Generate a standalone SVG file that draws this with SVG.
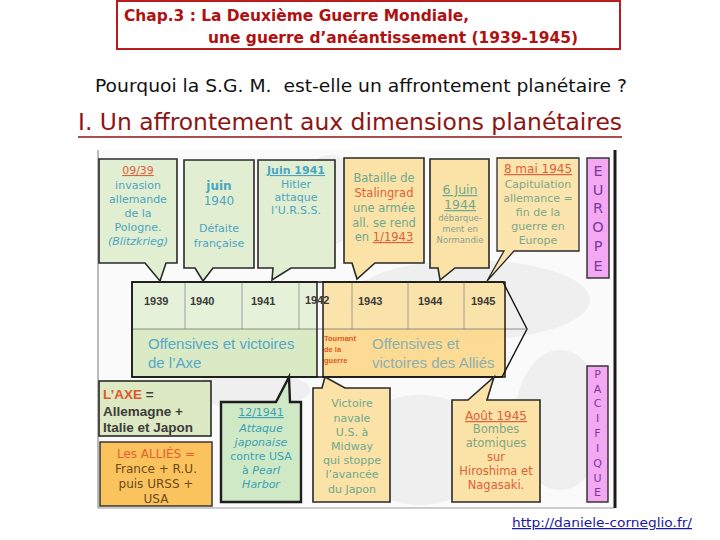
<svg xmlns="http://www.w3.org/2000/svg" width="720" height="540" viewBox="0 0 720 540">
<defs>
<style>
.c{font-family:"DejaVu Sans","Liberation Sans",sans-serif;text-anchor:middle}
.a{font-family:"Liberation Sans",Arial,sans-serif}
.g{fill:#e1eed2;stroke:#2a2a2a;stroke-width:1.6}
.y{fill:#fbe2a6;stroke:#2a2a2a;stroke-width:1.6}
.pk{fill:#f4a8f2;stroke:#2a2a2a;stroke-width:1.4}
.tl{fill:none;stroke:#111;stroke-width:1.4}
.teal{fill:#4aa6c0}
.sage{fill:#6fa890}
.org{fill:#e0603a}
.yr{font-family:"Liberation Sans",Arial,sans-serif;font-weight:bold;font-size:11px;fill:#3a3a3a}
.pl{font-family:"DejaVu Sans",sans-serif;font-size:14.5px;fill:#7a3aa0;text-anchor:middle}
.pq{font-family:"DejaVu Sans",sans-serif;font-size:11px;fill:#7a3aa0;text-anchor:middle}
</style>
</defs>
<rect width="720" height="540" fill="#fff"/>

<!-- header -->
<g id="title">
<rect x="117" y="1" width="503" height="48" fill="#fff" stroke="#b81c1c" stroke-width="2"/>
<text x="124" y="21" font-family="DejaVu Sans,sans-serif" font-weight="bold" font-size="15" fill="#b01010" textLength="345" lengthAdjust="spacingAndGlyphs">Chap.3 : La Deuxième Guerre Mondiale,</text>
<text x="208" y="43" font-family="DejaVu Sans,sans-serif" font-weight="bold" font-size="15" fill="#b01010" textLength="370" lengthAdjust="spacingAndGlyphs">une guerre d’anéantissement (1939-1945)</text>
</g>
<g id="question">
<text x="95" y="92" font-family="DejaVu Sans,sans-serif" font-size="17" fill="#111" textLength="532" lengthAdjust="spacingAndGlyphs" xml:space="preserve">Pourquoi la S.G. M.  est-elle un affrontement planétaire ?</text>
</g>
<g id="heading">
<text x="78" y="130" font-family="DejaVu Sans,sans-serif" font-size="23" fill="#8e1414" textLength="544" lengthAdjust="spacingAndGlyphs">I. Un affrontement aux dimensions planétaires</text>
<line x1="78" y1="137" x2="622" y2="137" stroke="#8e1414" stroke-width="1.6"/>
</g>

<!-- picture frame & faded background -->
<g id="frame">
<rect x="98" y="150" width="516" height="358" fill="#fafafa"/>
<g fill="#d0d0d0" opacity="0.25">
<ellipse cx="470" cy="300" rx="120" ry="40"/>
<ellipse cx="420" cy="450" rx="70" ry="55"/>
<ellipse cx="560" cy="420" rx="45" ry="70"/>
<ellipse cx="250" cy="390" rx="60" ry="18"/>
<ellipse cx="330" cy="200" rx="30" ry="45"/>
</g>
<line x1="98" y1="150" x2="98" y2="508" stroke="#7a7a7a" stroke-width="1"/>
<line x1="98" y1="508" x2="614" y2="508" stroke="#9a9a9a" stroke-width="1"/>
<line x1="615" y1="150" x2="615" y2="508" stroke="#1a1a1a" stroke-width="3"/>
</g>

<!-- timeline -->
<g id="timeline">
<rect x="132" y="282" width="185" height="47" fill="#e6f1da"/>
<rect x="132" y="329" width="185" height="48" fill="#d9eac4"/>
<rect x="323" y="282" width="183" height="47" fill="#fbe1a2" opacity="0.9"/>
<rect x="323" y="329" width="183" height="48" fill="#fcd78a" opacity="0.9"/>
<polygon points="132,282 503,282 527,329 502,377 132,377" class="tl"/>
<line x1="132" y1="329" x2="527" y2="329" stroke="#777" stroke-width="0.8"/>
<g stroke="#8a8a8a" stroke-width="0.8">
<line x1="185" y1="282" x2="185" y2="329"/>
<line x1="242" y1="282" x2="242" y2="329"/>
<line x1="299" y1="282" x2="299" y2="329"/>
<line x1="352" y1="282" x2="352" y2="329"/>
<line x1="408" y1="282" x2="408" y2="329"/>
<line x1="464" y1="282" x2="464" y2="329"/>
</g>
<rect x="132" y="282" width="185" height="95" class="tl"/>
<rect x="323" y="282" width="182" height="95" class="tl"/>
<text x="144" y="305" class="yr">1939</text>
<text x="190" y="305" class="yr">1940</text>
<text x="251" y="305" class="yr">1941</text>
<text x="305" y="304" class="yr">1942</text>
<text x="358" y="305" class="yr">1943</text>
<text x="418" y="305" class="yr">1944</text>
<text x="471" y="305" class="yr">1945</text>
<text x="148" y="349" class="a" font-size="15" fill="#56a8c6">Offensives et victoires</text>
<text x="148" y="368" class="a" font-size="15" fill="#56a8c6">de l’Axe</text>
<text class="a" font-size="7.5" font-weight="bold" fill="#e2561e"><tspan x="324" y="341">Tournant</tspan><tspan x="324" y="352">de la</tspan><tspan x="324" y="363">guerre</tspan></text>
<text x="372" y="349" class="a" font-size="15" fill="#8cb0ae">Offensives et</text>
<text x="372" y="368" class="a" font-size="15" fill="#8cb0ae">victoires des Alliés</text>
</g>

<!-- top row -->
<g id="n0939">
<path d="M99,159 H177 V263 H166 L160,281 L145,263 H99 Z" class="g"/>
<text class="c" font-size="11"><tspan x="138" y="174" class="org" text-decoration="underline">09/39</tspan><tspan x="138" y="189" class="teal">invasion</tspan><tspan x="138" y="203" class="teal">allemande</tspan><tspan x="138" y="217" class="teal">de la</tspan><tspan x="138" y="231" class="teal">Pologne.</tspan><tspan x="138" y="245" class="teal" font-style="italic">(Blitzkrieg)</tspan></text>
</g>
<g id="n1940">
<path d="M184,160 H254 V268 H213 L203,281 L195,268 H184 Z" class="g"/>
<text class="c" font-size="12"><tspan x="219" y="190" class="teal" font-weight="bold">juin</tspan><tspan x="219" y="205" class="teal">1940</tspan><tspan x="219" y="232" class="teal" font-size="11">Défaite</tspan><tspan x="219" y="247" class="teal" font-size="11">française</tspan></text>
</g>
<g id="n1941">
<path d="M258,160 H335 V268 H291 L272,280 L273,268 H258 Z" class="g" stroke-width="2.4"/>
<text class="c" font-size="11"><tspan x="296" y="174" class="teal" font-weight="bold" text-decoration="underline">Juin 1941</tspan><tspan x="296" y="188" class="teal">Hitler</tspan><tspan x="296" y="201" class="teal">attaque</tspan><tspan x="296" y="214" class="teal">l’U.R.S.S.</tspan></text>
</g>
<g id="nstalingrad">
<path d="M344,158 H424 V263 H375 L357,279 L352,263 H344 Z" class="y"/>
<text class="c" font-size="11.5"><tspan x="384" y="182" class="sage">Bataille de</tspan><tspan x="384" y="197" class="org">Stalingrad</tspan><tspan x="384" y="212" class="sage">une armée</tspan><tspan x="384" y="227" class="sage">all. se rend</tspan><tspan x="384" y="241" class="sage">en <tspan class="org" text-decoration="underline">1/1943</tspan></tspan></text>
</g>
<g id="n1944">
<path d="M430,159 H489 V268 H455 L440,280 L438,268 H430 Z" class="y"/>
<text class="c"><tspan x="460" y="194" class="sage" font-size="12.5" text-decoration="underline">6 Juin</tspan><tspan x="460" y="209" class="sage" font-size="12.5" text-decoration="underline">1944</tspan><tspan x="460" y="221" fill="#8aa090" font-size="8.5">débarque-</tspan><tspan x="460" y="232" fill="#8aa090" font-size="8.5">ment en</tspan><tspan x="460" y="243" fill="#8aa090" font-size="8.5">Normandie</tspan></text>
</g>
<g id="n1945eu">
<path d="M497,158 H579 V251 H514 L487,281 L504,251 H497 Z" fill="#fbe4ad" stroke="#2a2a2a" stroke-width="1.3"/>
<text class="c" font-size="11"><tspan x="538" y="173" class="org" font-size="12" text-decoration="underline">8 mai 1945</tspan><tspan x="538" y="188" fill="#7ea887">Capitulation</tspan><tspan x="538" y="202" fill="#7ea887">allemance =</tspan><tspan x="538" y="216" fill="#7ea887">fin de la</tspan><tspan x="538" y="230" fill="#7ea887">guerre en</tspan><tspan x="538" y="244" fill="#7ea887">Europe</tspan></text>
</g>
<g id="europe">
<rect x="587" y="158" width="22" height="120" class="pk"/>
<text class="pl"><tspan x="598" y="176">E</tspan><tspan x="598" y="195">U</tspan><tspan x="598" y="213">R</tspan><tspan x="598" y="232">O</tspan><tspan x="598" y="251">P</tspan><tspan x="598" y="271">E</tspan></text>
</g>

<!-- bottom row -->
<g id="axe">
<rect x="99" y="381" width="112" height="55" fill="#dde9c2" stroke="#2a2a2a" stroke-width="1.6"/>
<text class="a" font-weight="bold" font-size="13.5" fill="#3c3c3c"><tspan x="103" y="399"><tspan fill="#e0582a">L’AXE</tspan> =</tspan><tspan x="103" y="416">Allemagne +</tspan><tspan x="103" y="432">Italie et Japon</tspan></text>
</g>
<g id="allies">
<rect x="100" y="442" width="112" height="64" fill="#fac35e" stroke="#2a2a2a" stroke-width="1.4"/>
<text class="c" font-size="12" fill="#6a4a1a"><tspan x="156" y="458" fill="#e8602c">Les ALLIÉS =</tspan><tspan x="156" y="473">France + R.U.</tspan><tspan x="156" y="488">puis URSS +</tspan><tspan x="156" y="503">USA</tspan></text>
</g>
<g id="n1241">
<path d="M221,402 H276 L289,377 L290,402 H301 V502 H221 Z" fill="#cfe8c6" stroke="#1e1e1e" stroke-width="2.4"/>
<text class="c" font-size="11" fill="#3aa2b4"><tspan x="261" y="416" text-decoration="underline">12/1941</tspan><tspan x="261" y="432" font-style="italic">Attaque</tspan><tspan x="261" y="446" font-style="italic">japonaise</tspan><tspan x="261" y="460">contre USA</tspan><tspan x="261" y="474">à <tspan font-style="italic">Pearl</tspan></tspan><tspan x="261" y="488" font-style="italic">Harbor</tspan></text>
</g>
<g id="midway">
<path d="M313,388 H322 L325,377 L345,388 H390 V502 H313 Z" class="y"/>
<text class="c sage" font-size="11"><tspan x="352" y="407">Victoire</tspan><tspan x="352" y="422">navale</tspan><tspan x="352" y="436">U.S. à</tspan><tspan x="352" y="450">Midway</tspan><tspan x="352" y="464">qui stoppe</tspan><tspan x="352" y="478">l’avancée</tspan><tspan x="352" y="493">du Japon</tspan></text>
</g>
<g id="aout1945">
<path d="M452,400 H468 L494,377 L487,400 H540 V502 H452 Z" class="y"/>
<text class="c" font-size="11.5"><tspan x="496" y="420" class="org" font-size="12" text-decoration="underline">Août 1945</tspan><tspan x="496" y="433" fill="#7ea887">Bombes</tspan><tspan x="496" y="447" fill="#7ea887">atomiques</tspan><tspan x="496" y="461" class="org">sur</tspan><tspan x="496" y="475" class="org">Hiroshima et</tspan><tspan x="496" y="489" class="org">Nagasaki.</tspan></text>
</g>
<g id="pacifique">
<rect x="587" y="366" width="21" height="136" class="pk"/>
<text class="pq"><tspan x="597.5" y="378">P</tspan><tspan x="597.5" y="393">A</tspan><tspan x="597.5" y="407">C</tspan><tspan x="597.5" y="422">I</tspan><tspan x="597.5" y="437">F</tspan><tspan x="597.5" y="452">I</tspan><tspan x="597.5" y="467">Q</tspan><tspan x="597.5" y="482">U</tspan><tspan x="597.5" y="496">E</tspan></text>
</g>

<g id="url">
<text x="512" y="527" font-family="DejaVu Sans,sans-serif" font-size="12.5" fill="#1a1a9a" text-decoration="underline" textLength="180" lengthAdjust="spacingAndGlyphs">http://daniele-corneglio.fr/</text>
</g>
</svg>
